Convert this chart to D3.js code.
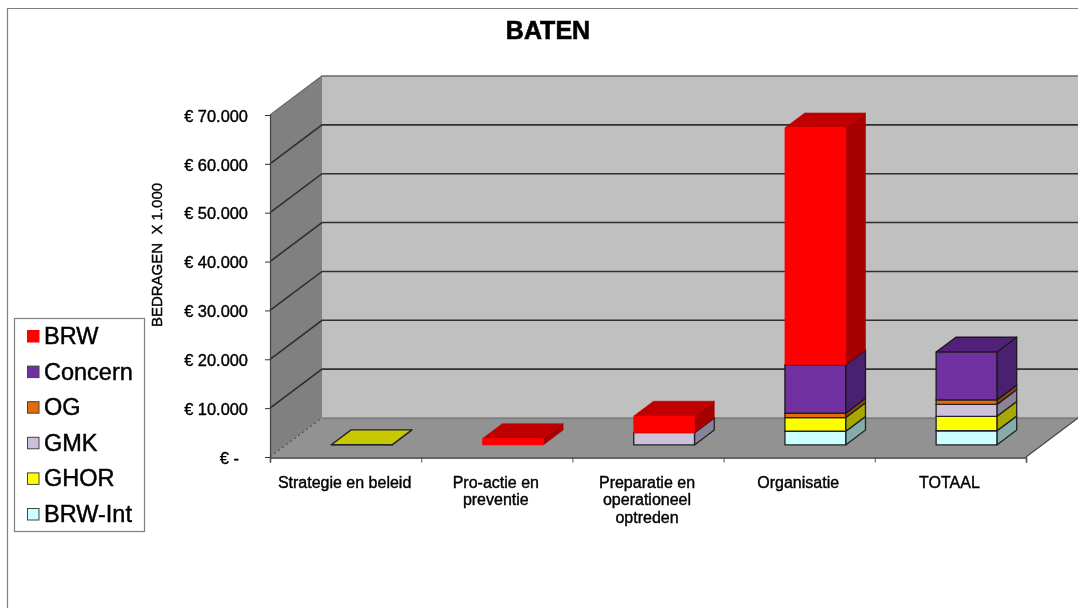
<!DOCTYPE html>
<html><head><meta charset="utf-8">
<script src="https://cdnjs.cloudflare.com/ajax/libs/d3/7.8.5/d3.min.js"></script>
<style>
html,body{margin:0;padding:0;background:#fff}
svg{display:block}
text{font-family:"Liberation Sans",Arial,sans-serif;fill:#000}
</style></head><body>
<svg id="c" width="1078" height="608"></svg>
<script>
const titleText = "BATEN";
const axisTitle = "BEDRAGEN  X 1.000";
const categories = [["Strategie en beleid"],["Pro-actie en","preventie"],["Preparatie en","operationeel","optreden"],["Organisatie"],["TOTAAL"]];
const seriesNames = ["BRW-Int","GHOR","GMK","OG","Concern","BRW"];
const brwInt  = [0,0,0,2800,2900];
const ghor    = [40,0,0,2800,2950];
const gmk     = [0,0,2500,0,2450];
const og      = [0,0,0,900,900];
const concern = [0,0,0,9900,9800];
const brw     = [0,1300,3400,48500,0];
const seriesValues = [brwInt,ghor,gmk,og,concern,brw];
const yTicks = [0,10000,20000,30000,40000,50000,60000,70000];
const yTickLabels = ["€ -  ","€ 10.000","€ 20.000","€ 30.000","€ 40.000","€ 50.000","€ 60.000","€ 70.000"];
const frontColors = ["#ccffff","#ffff00","#ccc0da","#e36c09","#7030a0","#ff0000"];
const sideColors  = ["#86abab","#a8a800","#8a8296","#96480a","#4a2070","#a60000"];
const topColors   = ["#a8d2d2","#c8c800","#a89eb4","#b85a08","#512078","#c00000"];
const strokeColors= ["#222","#222","#222","#222","#1a1a1a","#ff0000"];

const svg = d3.select("#c");
const defs = svg.append("defs");
defs.append("filter").attr("id","soft").attr("x","-5%").attr("y","-5%").attr("width","110%").attr("height","110%")
  .append("feGaussianBlur").attr("stdDeviation",0.4);

const y = d3.scaleLinear().domain([0,70000]).range([457,115]);
const x = d3.scaleLinear().domain([0,5]).range([270,1026]);
const DX = 52, DY = -39;
const P = (cx,v,d)=>[x(cx)+DX*d, y(v)+DY*d];
const poly = pts => pts.map(p=>p.join(",")).join(" ");

// frame
svg.append("path").attr("d","M7.5,608V8.5H1078").attr("fill","none").attr("stroke","#7f7f7f").attr("stroke-width",1.2);

// walls
const plot = svg.append("g");
plot.append("polygon").attr("points",poly([P(0,70000,1),[1078,y(70000)+DY],[1078,y(0)+DY],P(0,0,1)])).attr("fill","#c0c0c0");
plot.append("polygon").attr("points",poly([P(0,0,0),P(0,70000,0),P(0,70000,1),P(0,0,1)])).attr("fill","#808080");
plot.append("polygon").attr("points",poly([P(0,0,0),P(5,0,0),P(5,0,1),[1078,y(0)+DY],P(0,0,1)])).attr("fill","#929292");

// gridlines
plot.selectAll("path.grid").data(yTicks.slice(1)).join("path").attr("class","grid")
  .attr("d",v=>{const a=P(0,v,0),b=P(0,v,1);return `M${a}L${b}L1078,${b[1]}`;})
  .attr("fill","none").attr("stroke",v=>v===70000?"#6a6a6a":"#2f2f2f").attr("stroke-width",v=>v===70000?1.3:1.6);
plot.append("path").attr("d",`M${P(0,0,0)}L${P(0,0,1)}`).attr("stroke","#444").attr("stroke-dasharray","3 2").attr("fill","none");
plot.append("path").attr("d",`M${P(0,0,1)}L1078,${y(0)+DY}`).attr("stroke","#666").attr("stroke-width",1.2).attr("fill","none");
plot.append("path").attr("d",`M${P(5,0,0)}L${P(5,0,1)}`).attr("stroke","#444").attr("stroke-width",1.2).attr("fill","none");

// stacked bars
const rows = categories.map((c,i)=>{const r={i};seriesNames.forEach((s,k)=>r[s]=seriesValues[k][i]);return r;});
const stacked = d3.stack().keys(seriesNames)(rows);
const Z0 = 0.31, Z1 = 0.69, barW = 0.402;
const barG = svg.append("g");
categories.forEach((c,i)=>{
  const c0 = i+0.5-barW/2, c1 = i+0.5+barW/2;
  stacked.forEach((layer,k)=>{
    const [b,t] = layer[i];
    if (t<=b) return;
    const isRed = k===5;
    const g = barG.append("g").attr("stroke",strokeColors[k]).attr("stroke-width",isRed?0.6:1.3).attr("stroke-linejoin","round");
    g.append("polygon").attr("points",poly([P(c1,b,Z0),P(c1,b,Z1),P(c1,t,Z1),P(c1,t,Z0)])).attr("fill",sideColors[k]).attr("stroke",isRed?sideColors[k]:strokeColors[k]);
    g.append("polygon").attr("points",poly([P(c0,t,Z0),P(c1,t,Z0),P(c1,t,Z1),P(c0,t,Z1)])).attr("fill",topColors[k]).attr("stroke",isRed?topColors[k]:strokeColors[k]);
    g.append("polygon").attr("points",poly([P(c0,b,Z0),P(c1,b,Z0),P(c1,t,Z0),P(c0,t,Z0)])).attr("fill",frontColors[k]);
  });
});

// axes
const txt = svg.append("g").attr("filter","url(#soft)");
const yAxis = d3.axisLeft(y).tickValues(yTicks).tickSize(5).tickPadding(17).tickFormat((d,i)=>yTickLabels[i]);
const yg = svg.append("g").attr("transform","translate(270,0)").call(yAxis);
yg.select(".domain").attr("stroke","#444").attr("stroke-width",1.2);
yg.selectAll(".tick line").attr("stroke","#333");
yg.selectAll("text").attr("y",1).attr("font-size",16.4).attr("font-family",'"Liberation Sans",Arial,sans-serif').attr("fill","#000").attr("stroke","#000").attr("stroke-width",0.4).attr("filter","url(#soft)").style("white-space","pre");

const xAxis = d3.axisBottom(x).tickValues(d3.range(6)).tickSize(5).tickFormat("");
const xg = svg.append("g").attr("transform","translate(0,457.5)").call(xAxis);
xg.select(".domain").attr("stroke","#333").attr("stroke-width",1.6);
xg.selectAll(".tick line").attr("stroke","#555");

txt.selectAll("text.cat").data(categories).join("text").attr("class","cat")
  .attr("text-anchor","middle").attr("font-size",16).attr("stroke","#000").attr("stroke-width",0.4)
  .each(function(lines,i){
    d3.select(this).selectAll("tspan").data(lines).join("tspan")
      .attr("x",x(i+0.5)-1).attr("y",(d,j)=>487.5+j*17.6).text(d=>d);
  });

txt.append("text").attr("x",548).attr("y",39).attr("text-anchor","middle")
  .attr("font-size",25).attr("font-weight","bold").attr("stroke","#000").attr("stroke-width",0.6).text(titleText);
txt.append("text").attr("transform","translate(162,255) rotate(-90)").attr("text-anchor","middle")
  .attr("font-size",15).attr("stroke","#000").attr("stroke-width",0.35).style("white-space","pre").text(axisTitle);

// legend
svg.append("rect").attr("x",14.5).attr("y",318.5).attr("width",130).attr("height",213).attr("fill","#fff").attr("stroke","#7f7f7f").attr("stroke-width",1.2);
const legendOrder = seriesNames.map((s,k)=>k).reverse();
const ly = d3.scalePoint().domain(legendOrder).range([336,514]);
const lg = svg.selectAll("g.leg").data(legendOrder).join("g").attr("class","leg").attr("transform",k=>`translate(0,${ly(k)})`);
lg.append("rect").attr("x",27.5).attr("y",-5.5).attr("width",11.5).attr("height",11.5)
  .attr("fill",k=>frontColors[k]).attr("stroke",k=>k===5?"#ff0000":"#444").attr("stroke-width",1);
lg.append("text").attr("x",44).attr("y",8).attr("font-size",23.5).attr("stroke","#000").attr("stroke-width",0.45).attr("filter","url(#soft)").text(k=>seriesNames[k]);
</script>
</body></html>
